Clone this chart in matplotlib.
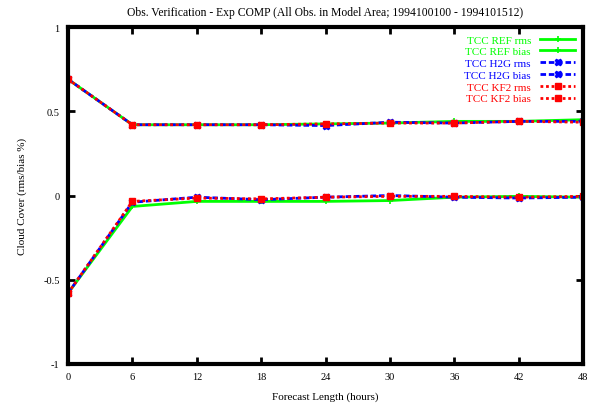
import matplotlib
matplotlib.use("Agg")
import matplotlib.pyplot as plt

# heures de prévision
hours = [0, 6, 12, 18, 24, 30, 36, 42, 48]

ref_rms = [0.69, 0.42, 0.42, 0.42, 0.425, 0.43, 0.44, 0.44, 0.45]
ref_bias = [-0.58, -0.065, -0.035, -0.035, -0.035, -0.03, -0.01, -0.005, -0.01]
h2g_rms = [0.69, 0.42, 0.42, 0.42, 0.415, 0.435, 0.43, 0.44, 0.44]
h2g_bias = [-0.58, -0.04, -0.01, -0.025, -0.01, 0.0, -0.01, -0.015, -0.01]
kf2_rms = [0.69, 0.42, 0.42, 0.42, 0.425, 0.43, 0.43, 0.44, 0.435]
kf2_bias = [-0.58, -0.035, -0.015, -0.02, -0.01, -0.005, -0.005, -0.01, -0.005]

yticks = [-1, -0.5, 0, 0.5, 1]
ylabels = ["-1", "-0.5", "0", "0.5", "1"]

plt.rcParams['font.family'] = ['Liberation Serif', 'DejaVu Serif']
plt.rcParams['font.size'] = 7

fig = plt.figure(figsize=(5.95, 4.06), dpi=100)
ax = fig.add_axes([0.1143, 0.101, 0.8657, 0.83])

ax.plot(hours, ref_rms, color='#00ff00', lw=2, ls='-', marker='+', ms=5, mew=1.2, label="TCC REF rms")
ax.plot(hours, ref_bias, color='#00ff00', lw=2, ls='-', marker='+', ms=5, mew=1.2, label="TCC REF bias")
ax.plot(hours, h2g_rms, color='#0000ff', lw=2, ls=(0, (2, 1)), marker='X', ms=5, label="TCC H2G rms")
ax.plot(hours, h2g_bias, color='#0000ff', lw=2, ls=(0, (2, 1)), marker='X', ms=5, label="TCC H2G bias")
ax.plot(hours, kf2_rms, color='#ff0000', lw=2, ls=(0, (1, 1)), marker='s', ms=5, label="TCC KF2 rms")
ax.plot(hours, kf2_bias, color='#ff0000', lw=2, ls=(0, (1, 1)), marker='s', ms=5, label="TCC KF2 bias")

ax.set_xlim(0, 48)
ax.set_ylim(-1, 1)
ax.set_xticks(hours)
ax.set_yticks(yticks)
ax.set_yticklabels(ylabels)
ax.tick_params(direction='in', length=5, width=2, top=True, right=True, pad=6, labelsize=7.5)
for s in ax.spines.values():
    s.set_linewidth(3)

ax.set_title("Obs. Verification - Exp COMP (All Obs. in Model Area; 1994100100 - 1994101512)", pad=9)
ax.set_xlabel("Forecast Length (hours)", labelpad=7, fontsize=8)
ax.set_ylabel("Cloud Cover (rms/bias %)", labelpad=12, fontsize=8)

leg = ax.legend(loc='upper right', frameon=False, markerfirst=False, labelcolor='linecolor',
                handlelength=3.2, handletextpad=0.8, labelspacing=0.18, borderaxespad=0.3,
                prop={'size': 8})

fig.savefig("out.png", dpi=100)
